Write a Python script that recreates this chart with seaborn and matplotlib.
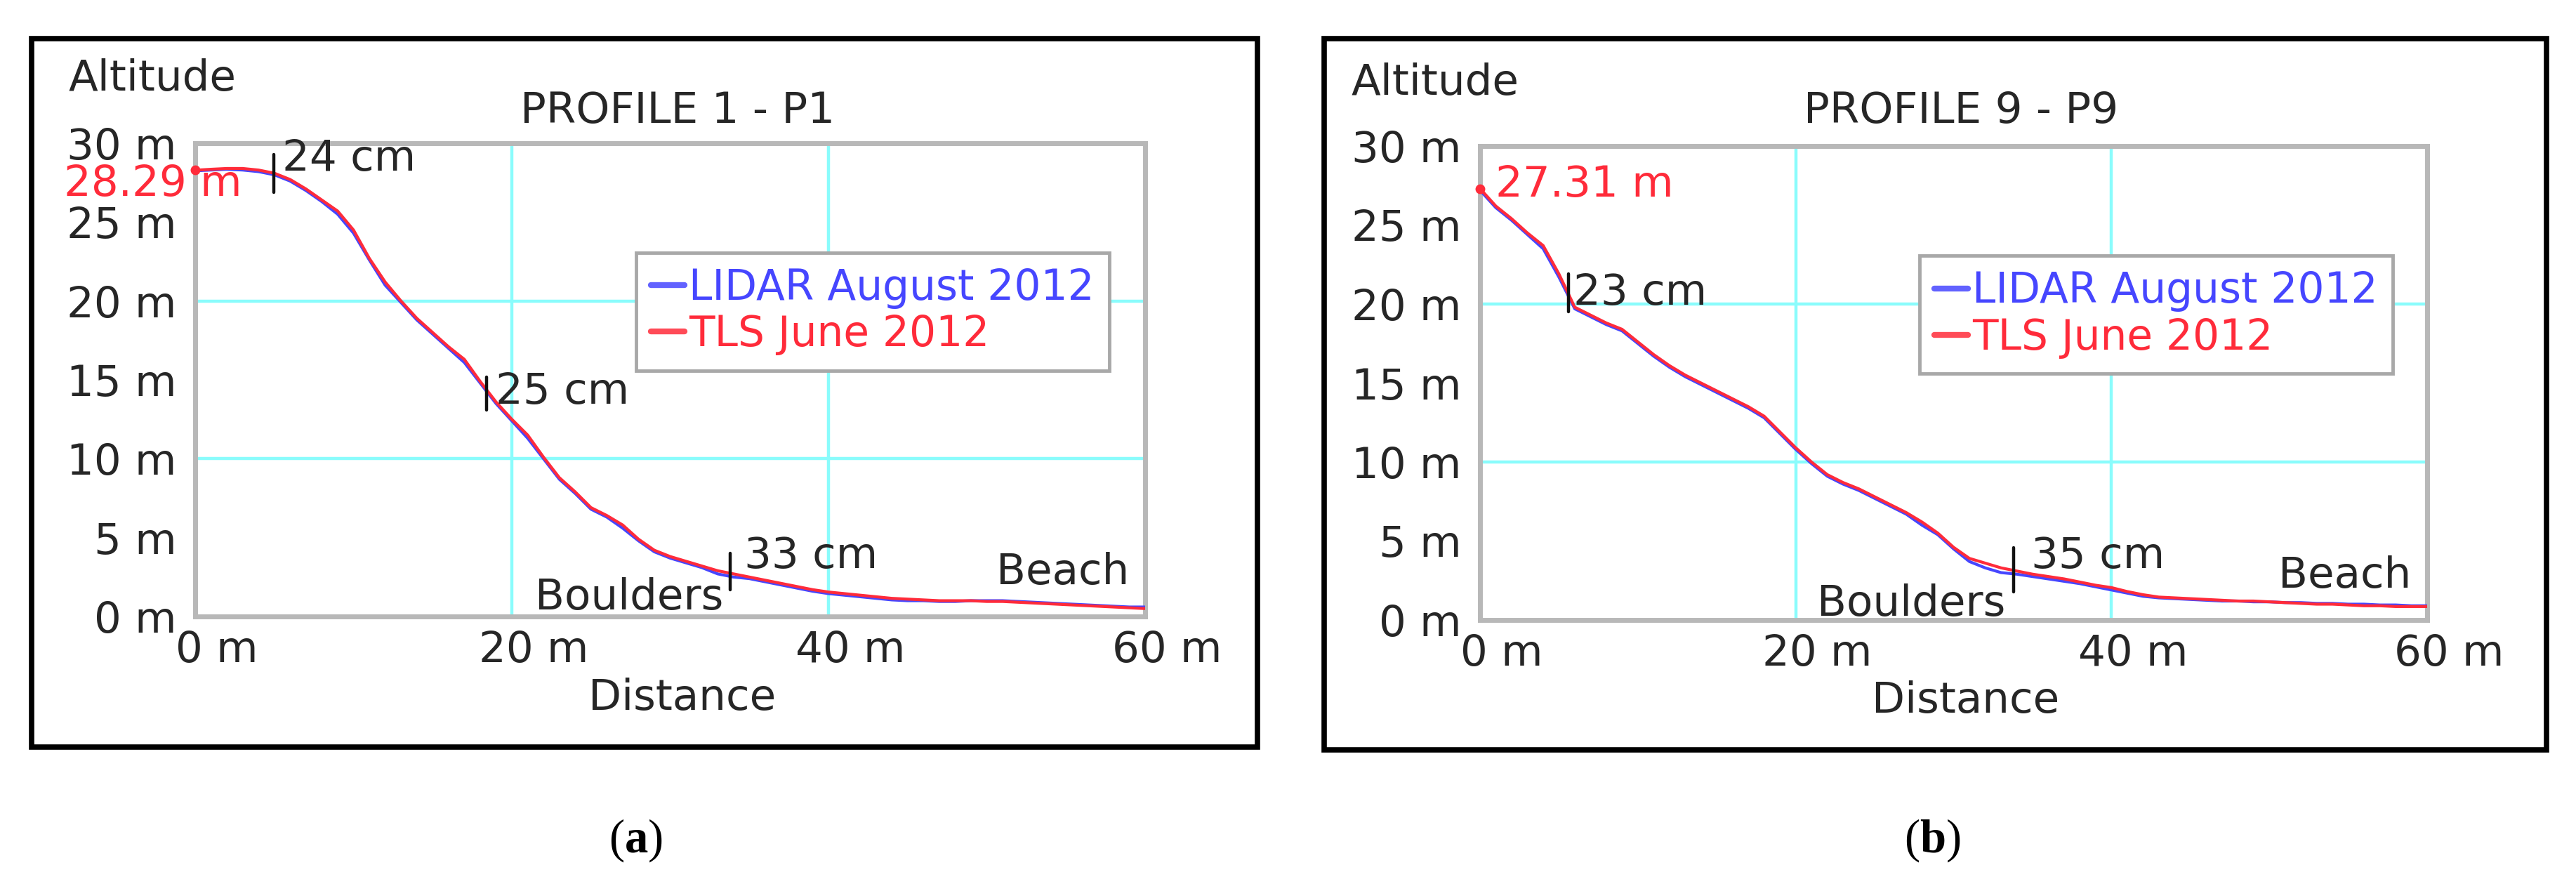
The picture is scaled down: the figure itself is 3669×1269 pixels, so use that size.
import numpy as np
import pandas as pd
import matplotlib
matplotlib.use("Agg")
import matplotlib.pyplot as plt
import matplotlib.transforms as mtransforms
from matplotlib.patches import Rectangle
from matplotlib.lines import Line2D
import seaborn as sns

# ---------------- data ----------------
distance = list(range(0, 61))

p1_tls = [28.29, 28.35, 28.4, 28.4, 28.3, 28.1, 27.7, 27.1, 26.4, 25.7,
          24.5, 22.7, 21.2, 20.0, 18.9, 18.0, 17.1, 16.3, 14.9, 13.6,
          12.5, 11.5, 10.1, 8.8, 7.9, 6.9, 6.4, 5.8, 4.9, 4.2,
          3.8, 3.5, 3.2, 2.9, 2.7, 2.5, 2.3, 2.1, 1.9, 1.7,
          1.55, 1.45, 1.35, 1.25, 1.15, 1.1, 1.05, 1.0, 1.0, 1.0,
          0.95, 0.95, 0.9, 0.85, 0.8, 0.75, 0.7, 0.65, 0.6, 0.55, 0.5]
p1_lidar = [28.25, 28.3, 28.35, 28.3, 28.2, 28.0, 27.6, 27.0, 26.3, 25.5,
            24.3, 22.6, 21.0, 19.9, 18.8, 17.9, 17.0, 16.1, 14.8, 13.5,
            12.4, 11.3, 10.0, 8.7, 7.8, 6.8, 6.3, 5.6, 4.8, 4.1,
            3.7, 3.4, 3.1, 2.7, 2.5, 2.4, 2.2, 2.0, 1.8, 1.6,
            1.45, 1.35, 1.25, 1.15, 1.05, 1.0, 1.0, 0.95, 0.95, 1.0,
            1.0, 1.0, 0.95, 0.9, 0.85, 0.8, 0.75, 0.7, 0.65, 0.6, 0.6]

p9_tls = [27.31, 26.2, 25.4, 24.5, 23.7, 21.9, 19.8, 19.3, 18.8, 18.4,
          17.6, 16.8, 16.1, 15.5, 15.0, 14.5, 14.0, 13.5, 12.9, 11.9,
          10.9, 10.0, 9.2, 8.7, 8.3, 7.8, 7.3, 6.8, 6.2, 5.5,
          4.6, 3.9, 3.6, 3.3, 3.1, 2.9, 2.75, 2.6, 2.4, 2.2,
          2.05, 1.8, 1.6, 1.45, 1.4, 1.35, 1.3, 1.25, 1.2, 1.2,
          1.15, 1.1, 1.05, 1.0, 1.0, 0.95, 0.9, 0.9, 0.85, 0.85, 0.85]
p9_lidar = [27.2, 26.1, 25.3, 24.4, 23.5, 21.7, 19.7, 19.2, 18.7, 18.3,
            17.5, 16.7, 16.0, 15.4, 14.9, 14.4, 13.9, 13.4, 12.8, 11.8,
            10.8, 9.9, 9.1, 8.6, 8.2, 7.7, 7.2, 6.7, 6.0, 5.4,
            4.5, 3.7, 3.3, 3.0, 2.9, 2.75, 2.6, 2.45, 2.3, 2.1,
            1.9, 1.7, 1.5, 1.4, 1.35, 1.3, 1.25, 1.2, 1.2, 1.15,
            1.15, 1.1, 1.1, 1.05, 1.05, 1.0, 1.0, 0.95, 0.95, 0.9, 0.9]

series_names = ["LIDAR August 2012", "TLS June 2012"]
titles = ["PROFILE 1 - P1", "PROFILE 9 - P9"]
start_labels = ["28.29 m", "27.31 m"]
panel_letters = ["a", "b"]

x_ticks = [0, 20, 40, 60]
x_tick_labels = ["0 m", "20 m", "40 m", "60 m"]
y_ticks = [0, 5, 10, 15, 20, 25, 30]
y_tick_labels = ["0 m", "5 m", "10 m", "15 m", "20 m", "25 m", "30 m"]

# annotation marks
p1_marks_d = [4.95, 18.4, 33.8]
p1_marks_lo = [26.9, 13.1, 1.7]
p1_marks_hi = [29.3, 15.2, 4.0]
p1_marks_txt = ["24 cm", "25 cm", "33 cm"]
p1_marks_tx = [5.5, 19.0, 34.7]
p1_marks_ty = [29.0, 14.2, 3.8]

p9_marks_d = [5.6, 33.8]
p9_marks_lo = [19.5, 1.8]
p9_marks_hi = [21.9, 4.6]
p9_marks_txt = ["23 cm", "35 cm"]
p9_marks_tx = [5.9, 34.9]
p9_marks_ty = [20.7, 4.0]

# ---------------- style ----------------
sns.set_theme(style="white")
plt.rcParams["font.family"] = ["DejaVu Sans"]
plt.rcParams["mathtext.fontset"] = "custom"
plt.rcParams["mathtext.rm"] = "Liberation Serif"
plt.rcParams["mathtext.bf"] = "Liberation Serif:bold"

BLUE = "#4646ff"
RED = "#ff2b3a"
TXT = "#262626"
FS = 44

fig = plt.figure(figsize=(36.69, 12.69), dpi=100)
fig.patch.set_facecolor("white")
W, H = 3669.0, 1269.0


def fx(px):
    return px / W


def fy(py):
    return 1 - py / H


# outer black frames
for (x0, y0, x1, y1) in [(45, 55, 1791, 1064), (1886, 55, 3627, 1068)]:
    fig.patches.append(Rectangle((fx(x0), fy(y1)), fx(x1) - fx(x0), fy(y0) - fy(y1),
                                 transform=fig.transFigure, fill=False,
                                 edgecolor="black", linewidth=5.5, zorder=0))

axes_px = [(278, 204, 1631, 878), (2108, 208, 3457, 883)]
datasets = [(p1_lidar, p1_tls), (p9_lidar, p9_tls)]
marks = [(p1_marks_d, p1_marks_lo, p1_marks_hi, p1_marks_txt, p1_marks_tx, p1_marks_ty),
         (p9_marks_d, p9_marks_lo, p9_marks_hi, p9_marks_txt, p9_marks_tx, p9_marks_ty)]
start_text_pos = [(-8.3, 27.4), (1.0, 27.55)]
boulders_pos = [(33.35, 1.2), (33.3, 1.0)]
beach_pos = [(59.0, 2.8), (59.0, 2.76)]
altitude_px = [(98, 112), (1925, 118)]
distance_px = [(972, 995), (2800, 998)]
letter_px = [(905, 1197), (2752, 1197)]

for i in range(2):
    l, t, r, b = axes_px[i]
    ax = fig.add_axes([fx(l), fy(b), fx(r) - fx(l), fy(t) - fy(b)])
    lidar, tls = datasets[i]
    df = pd.DataFrame({
        "distance": distance + distance,
        "altitude": lidar + tls,
        "series": [series_names[0]] * len(distance) + [series_names[1]] * len(distance),
    })
    sns.lineplot(data=df, x="distance", y="altitude", hue="series",
                 palette={series_names[0]: BLUE, series_names[1]: RED},
                 estimator=None, sort=False, legend=False, linewidth=3.0, ax=ax, zorder=3)

    ax.set_xlim(0, 60)
    ax.set_ylim(0, 30)
    ax.set_xticks(x_ticks)
    ax.set_xticklabels(x_tick_labels)
    ax.set_yticks(y_ticks)
    ax.set_yticklabels(y_tick_labels)
    ax.tick_params(axis="both", length=0, labelsize=FS, colors=TXT)
    ax.tick_params(axis="x", pad=14)
    ax.tick_params(axis="y", pad=19)
    offset = mtransforms.ScaledTranslation(0.31, 0, fig.dpi_scale_trans)
    for lab in ax.get_xticklabels():
        lab.set_transform(lab.get_transform() + offset)
    ax.set_xlabel("")
    ax.set_ylabel("")

    # grid lines (inner only)
    for gx in [20, 40]:
        ax.axvline(gx, color="#8afcfc", linewidth=3.2, zorder=1)
    for gy in [10, 20]:
        ax.axhline(gy, color="#8afcfc", linewidth=3.2, zorder=1)

    for sp in ax.spines.values():
        sp.set_visible(True)
        sp.set_color("#b8b8b8")
        sp.set_linewidth(5)

    # start marker + label
    ax.plot([0], [tls[0]], marker="o", markersize=9, color=RED, clip_on=False, zorder=5)
    sx, sy = start_text_pos[i]
    ax.text(sx, sy, start_labels[i], color=RED, fontsize=FS, ha="left", va="center",
            clip_on=False, zorder=6)

    # difference marks
    md, mlo, mhi, mtxt, mtx, mty = marks[i]
    for k in range(len(md)):
        ax.plot([md[k], md[k]], [mlo[k], mhi[k]], color="#111111", linewidth=3.2,
                zorder=6, clip_on=False)
        ax.text(mtx[k], mty[k], mtxt[k], color=TXT, fontsize=FS, ha="left",
                va="center", clip_on=False, zorder=6)

    bx, by = boulders_pos[i]
    ax.text(bx, by, "Boulders", color=TXT, fontsize=FS, ha="right", va="center", zorder=6)
    ex, ey = beach_pos[i]
    ax.text(ex, ey, "Beach", color=TXT, fontsize=FS, ha="right", va="center", zorder=6)

    # legend
    handles = [Line2D([], [], color=BLUE, linewidth=6, alpha=0.85),
               Line2D([], [], color=RED, linewidth=6, alpha=0.85)]
    leg = ax.legend(handles, series_names, loc="upper left",
                    bbox_to_anchor=(0.464, 0.769), borderaxespad=0,
                    fontsize=43, handlelength=0.8, handletextpad=0.1,
                    borderpad=0.36, labelspacing=0.12, frameon=True,
                    fancybox=False, framealpha=1, edgecolor="#a8a8a8")
    leg.get_frame().set_linewidth(3.5)
    leg.set_zorder(7)
    for txt, col in zip(leg.get_texts(), [BLUE, RED]):
        txt.set_color(col)

    # titles and axis captions
    fig.text((fx(l) + fx(r)) / 2 + 0.003, fy(158), titles[i], fontsize=FS, color=TXT,
             ha="center", va="center")
    axx, axy = altitude_px[i]
    fig.text(fx(axx), fy(axy), "Altitude", fontsize=FS, color=TXT, ha="left", va="center")
    dx, dy = distance_px[i]
    fig.text(fx(dx), fy(dy), "Distance", fontsize=FS, color=TXT, ha="center", va="center")
    lx, ly = letter_px[i]
    fig.text(fx(lx), fy(ly), r"($\mathbf{%s}$)" % panel_letters[i], fontsize=48,
             color="black", ha="center", va="center", family="Liberation Serif")

fig.savefig("out.png", dpi=100, facecolor="white")
